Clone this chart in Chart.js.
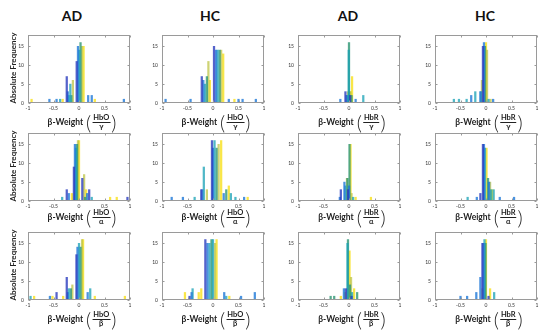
<!DOCTYPE html>
<html>
<head>
<meta charset="utf-8">
<script src="https://cdn.jsdelivr.net/npm/chart.js@4.4.0/dist/chart.umd.min.js"></script>
<style>
  body { margin: 0; background: #fff; }
  #wrap { position: relative; width: 550px; height: 334px; overflow: hidden; font-family: Lato, "Open Sans", sans-serif; }
  canvas { position: absolute; }
  .ttl { position: absolute; font-weight: bold; font-size: 14px; color: #111; transform: translateX(-50%); }
  .ylab { position: absolute; font-weight: bold; font-size: 8px; color: #222; white-space: nowrap; transform: translate(-50%, -50%) rotate(-90deg); }
  .xl { position: absolute; display: flex; align-items: center; transform: translate(-50%, -50%); white-space: nowrap; color: #222; }
  .xl b { font-size: 8.5px; margin-right: 3px; }
  .par { font-size: 20px; font-weight: 300; line-height: 1; }
  .frac { display: inline-flex; flex-direction: column; align-items: center; font-weight: bold; font-size: 7.5px; line-height: 1.05; margin: 0 1px; }
  .num { border-bottom: 1px solid #222; padding: 0 1px; }
</style>
</head>
<body>
<div id="wrap"></div>
<script>
// axis ticks and labels
const xTicks = [-1, -0.5, 0, 0.5, 1];
const yTicks = [0, 5, 10, 15];
const colTitles = ['AD', 'HC', 'AD', 'HC'];
const colSignal = ['HbO', 'HbO', 'HbR', 'HbR'];
const rowBand = ['γ', 'α', 'β'];

// each panel: 6 series (parula order), each a list of [beta weight, count]
const adHboGamma = [
    [[-0.24, 7], [-0.045, 11]],
    [[-0.58, 1], [-0.44, 1], [-0.22, 3], [-0.02, 15], [0.18, 2], [0.25, 2], [0.88, 1]],
    [[-0.37, 1], [-0.20, 2], [-0.17, 5], [0.005, 14]],
    [[-0.15, 2], [0.03, 16]],
    [[-0.12, 6], [0.06, 15]],
    [[-0.93, 1], [-0.32, 1], [0.09, 15], [0.31, 1]]
];
const hcHboGamma = [
    [[-0.22, 7], [0.02, 15]],
    [[-0.93, 1], [-0.44, 1], [-0.19, 6], [0.06, 14], [0.31, 1], [0.50, 1], [0.58, 1], [0.84, 1]],
    [[-0.16, 5], [0.09, 14]],
    [[-0.12, 7], [0.13, 14]],
    [[-0.09, 11], [0.16, 14]],
    [[-0.06, 6], [0.20, 13], [0.42, 1]]
];
const adHbrGamma = [
    [[-0.07, 3], [0.02, 2]],
    [[-0.17, 1], [-0.05, 2], [0.13, 1]],
    [[-0.03, 2], [-0.005, 14], [0.28, 2]],
    [[0.0, 16], [0.05, 2]],
    [[-0.02, 3], [0.03, 3]],
    [[0.03, 3], [0.06, 7]]
];
const hcHbrGamma = [
    [[-0.06, 15]],
    [[-0.29, 2], [-0.11, 3], [-0.04, 16], [0.14, 1]],
    [[-0.63, 1], [-0.53, 1], [-0.38, 1], [-0.21, 3], [-0.10, 3], [0.05, 1]],
    [[-0.02, 15]],
    [[-0.08, 6], [0.02, 14], [0.09, 1]],
    [[0.0, 16]]
];
const adHboAlpha = [
    [[-0.24, 3], [-0.10, 9], [0.065, 6], [0.20, 3], [0.95, 1]],
    [[-0.20, 2], [-0.08, 15], [0.16, 2]],
    [[-0.33, 1], [-0.06, 14], [0.25, 1]],
    [[-0.04, 15], [0.12, 1]],
    [[-0.02, 16], [0.10, 7]],
    [[-0.14, 2], [0.0, 16], [0.14, 3], [0.61, 1], [0.74, 1]]
];
const hcHboAlpha = [
    [[-0.23, 3], [-0.02, 16]],
    [[-0.81, 1], [-0.59, 1], [-0.21, 3], [0.0, 14], [0.21, 2], [0.61, 1]],
    [[-0.36, 1], [-0.18, 9], [0.03, 16], [0.35, 2], [0.44, 1]],
    [[0.07, 14], [0.26, 3]],
    [[-0.12, 3], [0.11, 15]],
    [[0.16, 16], [0.31, 4], [0.68, 1]]
];
const adHbrAlpha = [
    [[-0.16, 3], [-0.02, 3]],
    [[-0.18, 1], [-0.09, 5], [0.0, 4]],
    [[-0.07, 4], [0.08, 1]],
    [[-0.03, 6], [0.01, 15]],
    [[-0.04, 6], [0.05, 2]],
    [[0.03, 15], [0.13, 1], [0.43, 1]]
];
const hcHbrAlpha = [
    [[-0.11, 2], [-0.06, 15]],
    [[-0.18, 1], [-0.04, 15], [0.06, 5], [0.27, 1], [0.55, 1]],
    [[-0.36, 1], [-0.02, 14], [0.10, 3], [0.15, 3]],
    [[0.04, 6]],
    [[0.08, 5]],
    [[0.01, 14], [0.12, 3]]
];
const adHboBeta = [
    [[-0.44, 2], [-0.24, 6], [-0.05, 12]],
    [[-0.57, 1], [-0.22, 2], [-0.03, 14], [0.17, 2]],
    [[-0.95, 1], [-0.20, 3], [0.0, 15], [0.22, 3]],
    [[-0.16, 3], [0.03, 14]],
    [[-0.13, 4], [0.06, 16]],
    [[-0.88, 1], [-0.52, 1], [-0.31, 1], [0.08, 16], [0.31, 1], [0.90, 1]]
];
const hcHboBeta = [
    [[-0.46, 1], [-0.15, 16]],
    [[-0.42, 2], [-0.11, 15], [0.22, 2], [0.55, 1], [0.82, 2]],
    [[-0.40, 3], [-0.07, 15], [0.0, 16], [0.26, 1]],
    [[-0.03, 16]],
    [[0.04, 15]],
    [[-0.55, 2], [-0.28, 2], [-0.23, 3], [0.07, 16], [0.32, 1]]
];
const adHbrBeta = [
    [[-0.06, 3], [0.05, 1]],
    [[-0.10, 3]],
    [[-0.03, 15], [0.06, 2]],
    [[-0.36, 1], [-0.29, 1], [-0.02, 16], [0.02, 4], [0.16, 2]],
    [[-0.08, 2], [0.04, 6]],
    [[-0.16, 1], [0.01, 13], [0.10, 3]]
];
const hcHbrBeta = [
    [[-0.07, 15], [0.05, 1]],
    [[-0.50, 1], [-0.37, 1], [-0.19, 2], [-0.11, 6], [-0.05, 15]],
    [[-0.03, 16], [0.16, 2]],
    [[-0.01, 15]],
    [[-0.07, 3]],
    [[0.0, 16], [0.08, 3]]
];

const panels = [
    [adHboGamma, hcHboGamma, adHbrGamma, hcHbrGamma],
    [adHboAlpha, hcHboAlpha, adHbrAlpha, hcHbrAlpha],
    [adHboBeta, hcHboBeta, adHbrBeta, hcHbrBeta]
];

const colors = [
    'rgba(42, 60, 190, 0.8)',
    'rgba(30, 120, 215, 0.8)',
    'rgba(22, 160, 180, 0.75)',
    'rgba(45, 150, 115, 0.8)',
    'rgba(190, 196, 70, 0.75)',
    'rgba(248, 226, 40, 0.85)'
];

const plotLefts = [28, 162, 298, 435];
const plotTops = [32, 130, 229];
const plotW = 102, plotH = 71;
const padL = 20, padR = 8, padT = 4, padB = 10;

const wrap = document.getElementById('wrap');

// MATLAB style box with inward ticks
const boxPlugin = {
    id: 'box',
    afterDraw(chart) {
        const { ctx, chartArea: a, scales } = chart;
        ctx.save();
        ctx.strokeStyle = '#9a9a9a';
        ctx.lineWidth = 1;
        const l = Math.round(a.left) + 0.5, t = Math.round(a.top) + 0.5;
        const r = Math.round(a.right) - 0.5, b = Math.round(a.bottom) - 0.5;
        ctx.strokeRect(l, t, r - l, b - t);
        ctx.beginPath();
        xTicks.forEach(v => {
            const x = Math.round(scales.x.getPixelForValue(v)) + 0.5;
            ctx.moveTo(x, b); ctx.lineTo(x, b - 2);
            ctx.moveTo(x, t); ctx.lineTo(x, t + 2);
        });
        yTicks.forEach(v => {
            const y = Math.round(scales.y.getPixelForValue(v)) + 0.5;
            ctx.moveTo(l, y); ctx.lineTo(l + 2, y);
            ctx.moveTo(r, y); ctx.lineTo(r - 2, y);
        });
        ctx.stroke();
        ctx.restore();
    }
};

function addText(cls, html, x, y) {
    const d = document.createElement('div');
    d.className = cls;
    d.innerHTML = html;
    d.style.left = x + 'px';
    d.style.top = y + 'px';
    wrap.appendChild(d);
}

function makePanel(series, left, top) {
    const cv = document.createElement('canvas');
    cv.width = plotW + padL + padR;
    cv.height = plotH + padT + padB;
    cv.style.left = (left - padL) + 'px';
    cv.style.top = (top - padT) + 'px';
    wrap.appendChild(cv);

    new Chart(cv, {
        type: 'bar',
        data: {
            datasets: series.map((pts, i) => ({
                data: pts.map(p => ({ x: p[0], y: p[1] })),
                backgroundColor: colors[i],
                barThickness: 1.6,
                grouped: false
            }))
        },
        options: {
            responsive: false,
            animation: false,
            devicePixelRatio: 1,
            layout: { padding: { top: padT, right: padR, left: 0, bottom: 0 } },
            plugins: { legend: { display: false }, tooltip: { enabled: false } },
            scales: {
                x: {
                    type: 'linear', min: -1, max: 1, offset: false,
                    grid: { display: false, drawTicks: false, offset: false },
                    border: { display: false },
                    afterBuildTicks: s => { s.ticks = xTicks.map(v => ({ value: v })); },
                    afterFit: s => { s.height = padB; },
                    ticks: {
                        font: { size: 5, family: 'Lato' }, color: '#333', padding: 2,
                        maxRotation: 0, autoSkip: false,
                        callback: v => String(v)
                    }
                },
                y: {
                    min: 0, max: 18,
                    grid: { display: false, drawTicks: false },
                    border: { display: false },
                    afterBuildTicks: s => { s.ticks = yTicks.map(v => ({ value: v })); },
                    afterFit: s => { s.width = padL; },
                    ticks: { font: { size: 5, family: 'Lato' }, color: '#333', padding: 4 }
                }
            }
        },
        plugins: [boxPlugin]
    });
}

const titleX = [72, 210, 348, 485];
colTitles.forEach((t, c) => addText('ttl', t, titleX[c], 7));

const labelGap = [19, 16, 19];
panels.forEach((row, r) => {
    row.forEach((series, c) => {
        makePanel(series, plotLefts[c], plotTops[r]);
        const html = '<b>β-Weight</b><span class="par">(</span><span class="frac"><span class="num">' +
            colSignal[c] + '</span><span>' + rowBand[r] + '</span></span><span class="par">)</span>';
        addText('xl', html, plotLefts[c] + plotW / 2 + 3, plotTops[r] + plotH + labelGap[r]);
    });
    addText('ylab', 'Absolute Frequency', 13, plotTops[r] + plotH / 2);
});
</script>
</body>
</html>
